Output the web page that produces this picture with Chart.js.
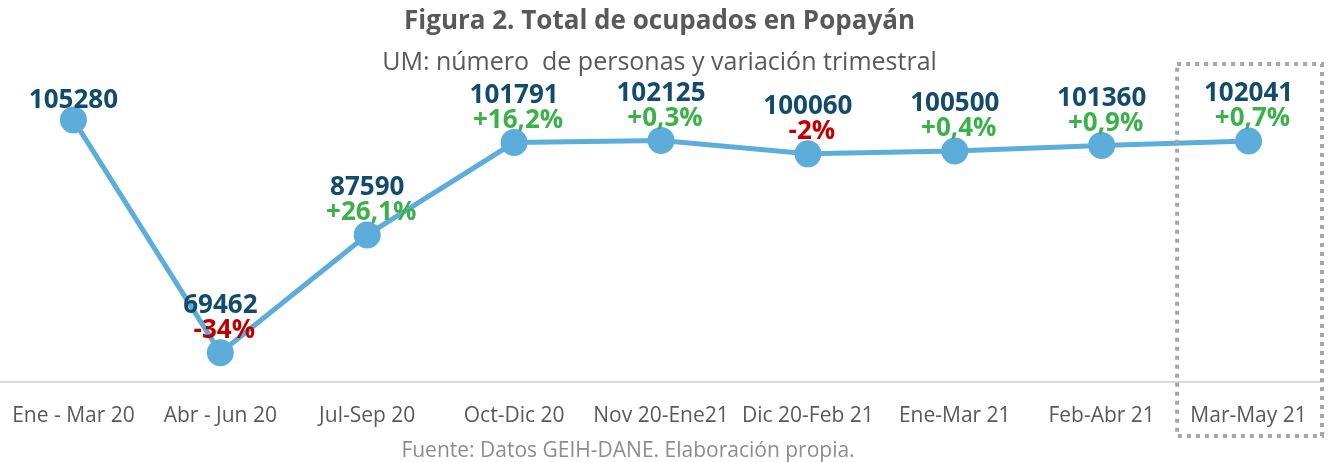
<!DOCTYPE html>
<html>
<head>
<meta charset="utf-8">
<script src="https://cdn.jsdelivr.net/npm/chart.js@4.4.1/dist/chart.umd.min.js"></script>
<style>
  html, body { margin: 0; padding: 0; background: #fff; }
  #wrap { width: 1328px; height: 462px; position: relative; }
</style>
</head>
<body>
<div id="wrap"><canvas id="ocupados"></canvas></div>
<script>
// data
const periods = ['Ene - Mar 20', 'Abr - Jun 20', 'Jul-Sep 20', 'Oct-Dic 20', 'Nov 20-Ene21',
                 'Dic 20-Feb 21', 'Ene-Mar 21', 'Feb-Abr 21', 'Mar-May 21'];
const ocupados = [105280, 69462, 87590, 101791, 102125, 100060, 100500, 101360, 102041];
const variacion = [null, -34, 26.1, 16.2, 0.3, -2, 0.4, 0.9, 0.7];

const FONT = '"Open Sans", sans-serif';

function fmtPct(v) {
    return (v > 0 ? '+' : '') + String(v).replace('.', ',') + '%';
}

// value + quarterly change written above every point
const pointLabels = {
    id: 'pointLabels',
    afterDatasetsDraw(chart) {
        const ctx = chart.ctx;
        const meta = chart.getDatasetMeta(0);
        ctx.save();
        ctx.textAlign = 'center';
        ctx.textBaseline = 'middle';
        meta.data.forEach((pt, i) => {
            const pct = variacion[i];
            ctx.font = 'bold 26px ' + FONT;
            ctx.fillStyle = '#124B6B';
            ctx.fillText(String(ocupados[i]), pt.x, pct === null ? pt.y - 19 : pt.y - 47);
            if (pct !== null) {
                ctx.fillStyle = pct < 0 ? '#C00000' : '#3CB04A';
                ctx.fillText(fmtPct(pct), pt.x + 4, pt.y - 22);
            }
        });
        ctx.restore();
    }
};

// dotted frame round the last period + source line
const extras = {
    id: 'extras',
    afterDraw(chart) {
        const ctx = chart.ctx;
        const x = chart.scales.x;
        const n = periods.length;
        const left = (x.getPixelForValue(n - 2) + x.getPixelForValue(n - 1)) / 2 + 2;
        const right = chart.chartArea.right;
        ctx.save();
        ctx.strokeStyle = '#A6A6A6';
        ctx.lineWidth = 4;
        ctx.setLineDash([4, 5]);
        ctx.strokeRect(left, 64, right - left, 372);
        ctx.setLineDash([]);
        ctx.font = '21px ' + FONT;
        ctx.fillStyle = '#8C8C8C';
        ctx.textAlign = 'center';
        ctx.textBaseline = 'middle';
        ctx.fillText('Fuente: Datos GEIH-DANE. Elaboración propia.', 628, 451);
        ctx.restore();
    }
};

new Chart(document.getElementById('ocupados'), {
    type: 'line',
    data: {
        labels: periods,
        datasets: [{
            data: ocupados,
            borderColor: '#5DADDA',
            backgroundColor: '#5DADDA',
            borderWidth: 5,
            pointRadius: 11,
            pointHoverRadius: 11,
            tension: 0
        }]
    },
    options: {
        responsive: true,
        maintainAspectRatio: false,
        animation: false,
        layout: { autoPadding: false, padding: { left: -3, right: 6, top: 0, bottom: 11 } },
        plugins: {
            legend: { display: false },
            tooltip: { enabled: false },
            title: {
                display: true,
                text: 'Figura 2. Total de ocupados en Popayán',
                color: '#595959',
                font: { family: FONT, size: 26, weight: 'bold' },
                padding: { top: 6, bottom: 11 }
            },
            subtitle: {
                display: true,
                text: 'UM: número  de personas y variación trimestral',
                color: '#595959',
                font: { family: FONT, size: 25 },
                padding: { bottom: 11 }
            }
        },
        scales: {
            x: {
                offset: true,
                grid: { display: false, drawTicks: false },
                border: { display: true, color: '#D9D9D9', width: 2 },
                ticks: {
                    color: '#595959',
                    font: { family: FONT, size: 21 },
                    padding: 22,
                    maxRotation: 0,
                    autoSkip: false
                },
                // drop the extra side padding chart.js reserves for the edge labels
                afterFit(scale) {
                    scale.paddingLeft = 0;
                    scale.paddingRight = 0;
                }
            },
            y: {
                display: false,
                min: 65000,
                max: 110000
            }
        }
    },
    plugins: [pointLabels, extras]
});
</script>
</body>
</html>
